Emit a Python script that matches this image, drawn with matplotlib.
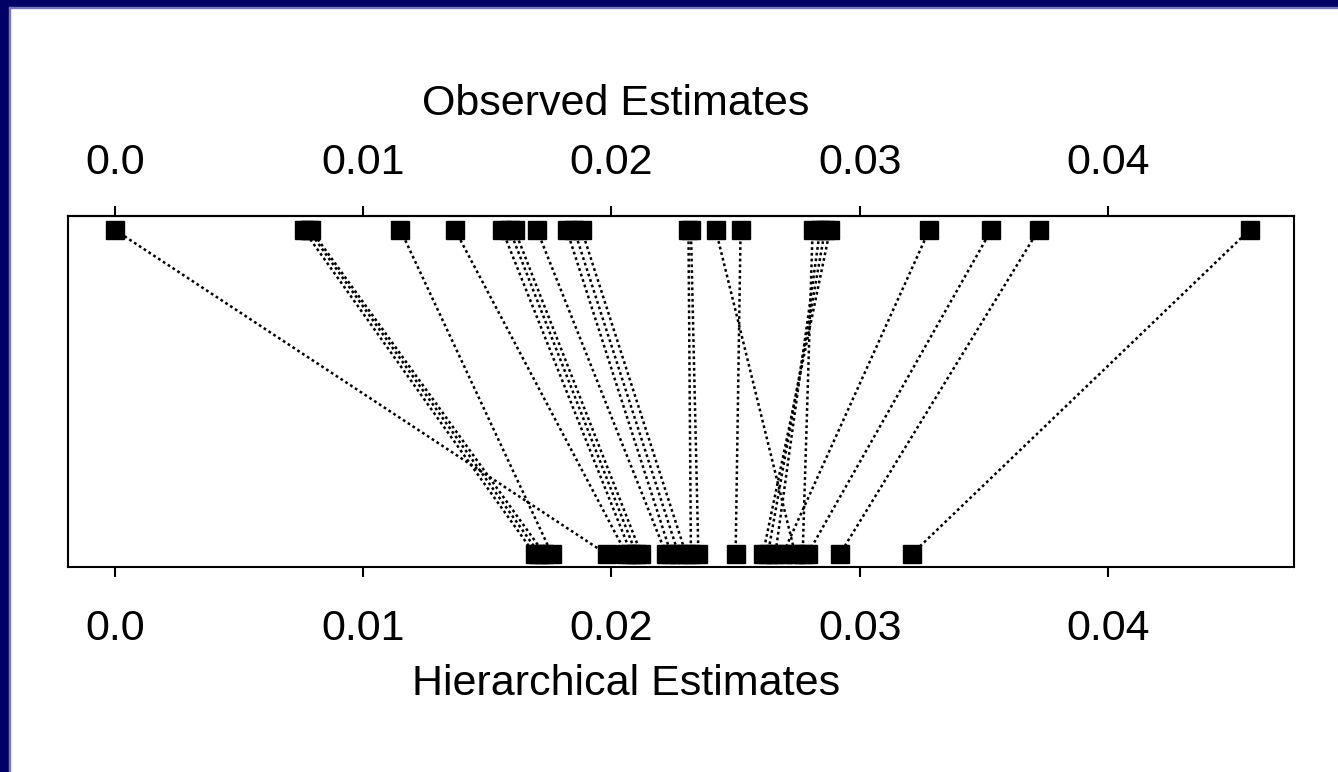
import numpy as np
import matplotlib
matplotlib.use("Agg")
import matplotlib.pyplot as plt
from matplotlib.patches import Rectangle

plt.rcParams['font.family'] = ['Liberation Sans', 'DejaVu Sans']

# observed (top row) and hierarchical (bottom row) estimates, paired by unit
observed = [0.0000, 0.0076, 0.0078, 0.0079, 0.0115, 0.0137, 0.0156, 0.0159,
            0.0161, 0.0170, 0.0182, 0.0185, 0.0188, 0.0231, 0.0232, 0.0242,
            0.0252, 0.0281, 0.0284, 0.0286, 0.0288, 0.0328, 0.0353, 0.0372,
            0.0457]
hierarchical = [0.0198, 0.0169, 0.0171, 0.0173, 0.0176, 0.0206, 0.0208, 0.0210,
                0.0212, 0.0222, 0.0224, 0.0227, 0.0230, 0.0232, 0.0235, 0.0274,
                0.0250, 0.0277, 0.0266, 0.0263, 0.0261, 0.0269, 0.0279, 0.0292,
                0.0321]
ticks = [0.0, 0.01, 0.02, 0.03, 0.04]
tick_labels = ["0.0", "0.01", "0.02", "0.03", "0.04"]

fig = plt.figure(figsize=(13.38, 7.72), dpi=100)

# navy slide frame (left and top)
navy = "#000066"
fig.patches.append(Rectangle((0, 0), 9 / 1338, 1, transform=fig.transFigure,
                             color=navy, zorder=0))
fig.patches.append(Rectangle((0, 1 - 7 / 772), 1, 7 / 772, transform=fig.transFigure,
                             color=navy, zorder=0))
fig.patches.append(Rectangle((9 / 1338, 0), 1 / 1338, 1 - 7 / 772,
                             transform=fig.transFigure, color="#7777bb", zorder=0))
fig.patches.append(Rectangle((9 / 1338, 1 - 8 / 772), 1, 1 / 772,
                             transform=fig.transFigure, color="#7777bb", zorder=0))

ax = fig.add_axes([68 / 1338, 1 - 567 / 772, (1294 - 68) / 1338, (567 - 216) / 772])

for o, h in zip(observed, hierarchical):
    ax.plot([o, h], [1, 0], color="black", lw=1.8, ls=(0, (1.1, 1.2)), zorder=1)

ax.plot(observed, np.ones(len(observed)), "s", color="black", ms=13, zorder=2)
ax.plot(hierarchical, np.zeros(len(hierarchical)), "s", color="black", ms=13, zorder=2)

ax.set_xlim(-0.00189, 0.04749)
ax.set_ylim(-0.040, 1.043)
ax.set_yticks([])

for s in ax.spines.values():
    s.set_linewidth(1.5)

ax.set_xticks(ticks)
ax.set_xticklabels(tick_labels)
ax.tick_params(axis="x", length=7, width=1.5, labelsize=31, pad=23)
ax.set_xlabel("Hierarchical Estimates", fontsize=31, labelpad=11)
ax.xaxis.label.set_x(0.455)

top = ax.secondary_xaxis("top")
top.set_xticks(ticks)
top.set_xticklabels(tick_labels)
top.tick_params(axis="x", length=7, width=1.5, labelsize=31, pad=17)
top.set_xlabel("Observed Estimates", fontsize=31, labelpad=20)
top.xaxis.label.set_x(0.447)
top.spines["top"].set_linewidth(1.5)

fig.savefig("out.png", dpi=100)
